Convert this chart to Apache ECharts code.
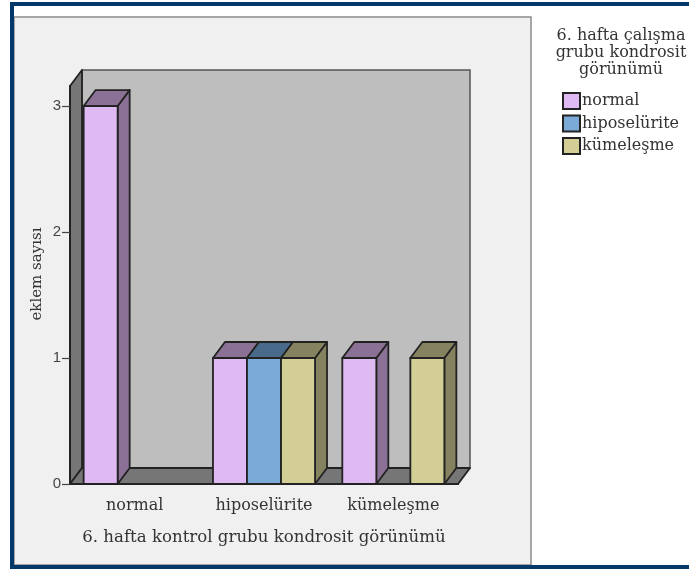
<!DOCTYPE html>
<html>
<head>
<meta charset="utf-8">
<style>html,body{margin:0;padding:0;background:#fff}#chart{width:689px;height:569px}</style>
<script src="https://cdn.jsdelivr.net/npm/echarts@6/dist/echarts.min.js"></script>
</head>
<body>
<div id="chart"></div>
<script>
// Joint counts per control-group appearance, split by study-group appearance
const categories = ['normal', 'hiposelürite', 'kümeleşme'];
const normalValues = [3, 1, 1];
const hiposeluriteValues = [0, 1, 0];
const kumelesmeValues = [0, 1, 1];
const yTicks = [0, 1, 2, 3];
const xTitle = '6. hafta kontrol grubu kondrosit görünümü';
const yTitle = 'eklem sayısı';
const legendTitle = '6. hafta çalışma\ngrubu kondrosit\ngörünümü';

const serifFont = '"DejaVu Serif", serif';
const edge = '#222222';
const depthX = 12, depthY = 16;
const barShare = 0.263;

function box(points, fill) {
  return { type: 'polygon', shape: { points }, style: { fill, stroke: edge, lineWidth: 1.8, lineJoin: 'round' } };
}

// Back wall, side wall and floor of the 3D plot box, from the axis extents
function renderWalls(params, api) {
  const band = api.size([1, 0])[0];
  const base = api.coord([0, 0]);
  const l = base[0] - band / 2, r = l + band * categories.length;
  const b = base[1], t = params.coordSys.y;
  const wallEdge = { stroke: '#555555', lineWidth: 1.5 };
  return {
    type: 'group',
    silent: true,
    children: [
      { type: 'polygon', shape: { points: [[l + depthX, t - depthY], [r + depthX, t - depthY], [r + depthX, b - depthY], [l + depthX, b - depthY]] }, style: Object.assign({ fill: '#bebebe' }, wallEdge) },
      box([[l, t], [l + depthX, t - depthY], [l + depthX, b - depthY], [l, b]], '#767676'),
      box([[l, b], [l + depthX, b - depthY], [r + depthX, b - depthY], [r, b]], '#767676')
    ]
  };
}

// One extruded bar: side and top faces, then the front face
function makeBarRenderer(seriesPos, front, shade) {
  return function (params, api) {
    const value = api.value(1);
    if (!value) return null;
    const w = api.size([1, 0])[0] * barShare;
    const top = api.coord([api.value(0), value]);
    const bottom = api.coord([api.value(0), 0]);
    const x0 = top[0] + (seriesPos - 1.5) * w, x1 = x0 + w;
    const y0 = top[1], y1 = bottom[1];
    return {
      type: 'group',
      children: [
        box([[x1, y0], [x1 + depthX, y0 - depthY], [x1 + depthX, y1 - depthY], [x1, y1]], shade),
        box([[x0, y0], [x0 + depthX, y0 - depthY], [x1 + depthX, y0 - depthY], [x1, y0]], shade),
        box([[x0, y0], [x1, y0], [x1, y1], [x0, y1]], front)
      ]
    };
  };
}

function barSeries(name, values, pos, front, shade) {
  return {
    type: 'custom',
    name,
    clip: false,
    z: 5,
    renderItem: makeBarRenderer(pos, front, shade),
    itemStyle: { color: front, borderColor: edge, borderWidth: 1.5 },
    encode: { x: 0, y: 1 },
    data: values.map((v, i) => [i, v])
  };
}

const chart = echarts.init(document.getElementById('chart'), null, { renderer: 'canvas' });
chart.setOption({
  animation: false,
  backgroundColor: '#ffffff',
  title: {
    text: legendTitle,
    left: 616,
    top: 22,
    textAlign: 'center',
    textStyle: { fontFamily: serifFont, fontWeight: 'normal', fontSize: 16, lineHeight: 17, color: '#333' }
  },
  legend: {
    orient: 'vertical',
    left: 557,
    top: 87,
    itemWidth: 17,
    itemHeight: 16,
    itemGap: 4.5,
    icon: 'rect',
    selectedMode: false,
    data: ['normal', 'hiposelürite', 'kümeleşme'],
    textStyle: { fontFamily: serifFont, fontSize: 16, color: '#333', padding: [0, 0, 0, -3] }
  },
  graphic: [
    { type: 'rect', z: -10, silent: true, shape: { x: 14, y: 17, width: 517, height: 548 }, style: { fill: '#f0f0f0', stroke: '#8a8a8a', lineWidth: 1.5 } },
    { type: 'rect', z: -9, silent: true, shape: { x: 10, y: 2, width: 679, height: 4 }, style: { fill: '#03386b' } },
    { type: 'rect', z: -9, silent: true, shape: { x: 10, y: 2, width: 4, height: 567 }, style: { fill: '#03386b' } },
    { type: 'rect', z: 20, silent: true, shape: { x: 10, y: 565, width: 679, height: 4 }, style: { fill: '#03386b' } }
  ],
  grid: { left: 70, top: 86, width: 388, height: 398, containLabel: false },
  xAxis: {
    type: 'category',
    data: categories,
    name: xTitle,
    nameLocation: 'middle',
    nameGap: 45,
    nameTextStyle: { fontFamily: serifFont, fontSize: 16.6, color: '#333' },
    axisLine: { lineStyle: { color: edge, width: 1.8 } },
    axisTick: { alignWithLabel: true, length: 10, lineStyle: { color: '#444', width: 1.5 } },
    axisLabel: { margin: 14, fontFamily: serifFont, fontSize: 16, color: '#333' },
    z: 6
  },
  yAxis: {
    type: 'value',
    min: 0,
    max: 3.159,
    name: yTitle,
    nameLocation: 'middle',
    nameGap: 25,
    nameMoveOverlap: false,
    nameTextStyle: { fontFamily: serifFont, fontSize: 15, color: '#333', padding: [0, 0, 0, 22] },
    splitLine: { show: false },
    axisLine: { show: true, lineStyle: { color: edge, width: 1.8 } },
    axisTick: { show: true, length: 8, lineStyle: { color: '#444', width: 1.2 }, customValues: yTicks },
    axisLabel: { margin: 9, fontFamily: '"Liberation Sans", sans-serif', fontSize: 15, color: '#444', customValues: yTicks },
    z: 6
  },
  series: [
    { type: 'custom', name: 'walls', clip: false, silent: true, z: 1, renderItem: renderWalls, data: [[0, 0]], encode: { x: 0, y: 1 } },
    barSeries('normal', normalValues, 0, '#deb9f2', '#8b7196'),
    barSeries('hiposelürite', hiposeluriteValues, 1, '#7baad8', '#496a8b'),
    barSeries('kümeleşme', kumelesmeValues, 2, '#d3ce96', '#85835f')
  ]
});
</script>
</body>
</html>
